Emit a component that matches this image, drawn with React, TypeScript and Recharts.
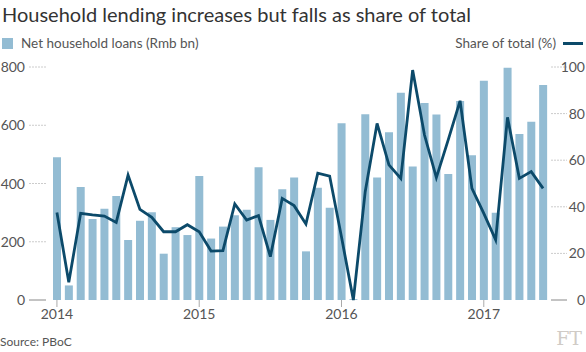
import React from 'react';
import { ComposedChart, Bar, Line, XAxis, YAxis } from 'recharts';

const months = [
  'Jan 2014', 'Feb 2014', 'Mar 2014', 'Apr 2014', 'May 2014', 'Jun 2014', 'Jul 2014', 'Aug 2014', 'Sep 2014', 'Oct 2014', 'Nov 2014', 'Dec 2014',
  'Jan 2015', 'Feb 2015', 'Mar 2015', 'Apr 2015', 'May 2015', 'Jun 2015', 'Jul 2015', 'Aug 2015', 'Sep 2015', 'Oct 2015', 'Nov 2015', 'Dec 2015',
  'Jan 2016', 'Feb 2016', 'Mar 2016', 'Apr 2016', 'May 2016', 'Jun 2016', 'Jul 2016', 'Aug 2016', 'Sep 2016', 'Oct 2016', 'Nov 2016', 'Dec 2016',
  'Jan 2017', 'Feb 2017', 'Mar 2017', 'Apr 2017', 'May 2017', 'Jun 2017',
];

// net household loans, Rmb bn
const loans = [
  490, 50, 388, 278, 313, 357, 206, 272, 301, 159, 250, 223,
  426, 211, 252, 291, 310, 456, 275, 380, 421, 167, 385, 317,
  607, 3, 638, 421, 576, 712, 458, 676, 637, 433, 683, 497,
  753, 300, 797, 570, 612, 738,
];

// household share of total new lending, %
const share = [
  37.6, 7.6, 37.2, 36.5, 36, 33.3, 53.6, 38.9, 35.5, 29.3, 29.3, 32.3,
  29.3, 21, 21.2, 41.2, 34.3, 36.2, 18.6, 43.6, 40.5, 32.6, 54.4, 53.2,
  27, 0, 46.5, 75.8, 58, 52.2, 98.7, 70.8, 52.5, 68.7, 85.5, 47.9,
  37.2, 25.8, 78.4, 52.2, 55.1, 47.9,
];

const yearTicks = ['Jan 2014', 'Jan 2015', 'Jan 2016', 'Jan 2017'];
const leftTicks = [0, 200, 400, 600, 800];
const rightTicks = [0, 20, 40, 60, 80, 100];

const data = months.map((m, i) => ({ month: m, loans: loans[i], share: share[i] }));

const FONT = 'Lato, sans-serif';
const BAR = '#93bcd3';
const LINE = '#0c4a6a';
const TEXT = '#555';

const LeftTick = (props: any) => {
  const { y, payload } = props;
  const zero = payload.value === 0;
  return (
    <g>
      <line x1={29} x2={46} y1={y} y2={y} stroke={zero ? '#888' : '#ccc'} strokeWidth={1} strokeDasharray={zero ? undefined : '2 1'} />
      <text x={25} y={y} dy={5} textAnchor="end" fill={TEXT} fontSize={14} fontFamily={FONT}>
        {payload.value}
      </text>
    </g>
  );
};

const RightTick = (props: any) => {
  const { y, payload } = props;
  const zero = payload.value === 0;
  return (
    <g>
      <line x1={551} x2={567} y1={y} y2={y} stroke={zero ? '#888' : '#ccc'} strokeWidth={1} strokeDasharray={zero ? undefined : '2 1'} />
      <text x={585} y={y} dy={5} textAnchor="end" fill={TEXT} fontSize={14} fontFamily={FONT}>
        {payload.value}
      </text>
    </g>
  );
};

const App = () => {
  return (
    <div style={{ position: 'absolute', left: 0, top: 0, width: 586, height: 352, background: '#fff', fontFamily: FONT, overflow: 'hidden' }}>
      <div style={{ position: 'absolute', left: 2, top: 2, fontSize: 20, color: '#333', whiteSpace: 'nowrap' }}>
        Household lending increases but falls as share of total
      </div>
      <div style={{ position: 'absolute', left: 2, top: 35, display: 'flex', alignItems: 'center', fontSize: 13.5, color: TEXT }}>
        <div style={{ width: 11, height: 11, background: BAR, marginRight: 8 }}></div>
        <span>Net household loans (Rmb bn)</span>
      </div>
      <div style={{ position: 'absolute', right: 3, top: 35, display: 'flex', alignItems: 'center', fontSize: 13.5, color: TEXT }}>
        <span>Share of total (%)</span>
        <div style={{ width: 20, height: 3, background: LINE, marginLeft: 7 }}></div>
      </div>

      <div style={{ position: 'absolute', left: 0, top: 0 }}>
        <ComposedChart width={586} height={352} data={data} margin={{ top: 67, right: 0, left: 0, bottom: 22 }}>
          <XAxis
            dataKey="month"
            ticks={yearTicks}
            tickFormatter={(v: string) => v.slice(4)}
            axisLine={false}
            tickLine={{ stroke: '#aaa' }}
            tickSize={7}
            height={30}
            interval={0}
            tick={{ fill: TEXT, fontSize: 14, fontFamily: FONT }}
          />
          <YAxis
            yAxisId="left"
            orientation="left"
            width={51}
            domain={[0, 800]}
            ticks={leftTicks}
            axisLine={false}
            tickLine={false}
            tick={<LeftTick />}
          />
          <YAxis
            yAxisId="right"
            orientation="right"
            width={37}
            domain={[0, 100]}
            ticks={rightTicks}
            axisLine={false}
            tickLine={false}
            tick={<RightTick />}
          />
          <Bar yAxisId="left" dataKey="loans" fill={BAR} barSize={8} isAnimationActive={false} />
          <Line
            yAxisId="right"
            dataKey="share"
            type="linear"
            stroke={LINE}
            strokeWidth={2.8}
            dot={false}
            activeDot={false}
            isAnimationActive={false}
          />
        </ComposedChart>
      </div>

      <div style={{ position: 'absolute', left: 0, top: 334, fontSize: 12, color: TEXT }}>Source: PBoC</div>
      <div style={{ position: 'absolute', right: 4, top: 326, fontSize: 19, lineHeight: '24px', color: '#d0cbc6', fontFamily: '"DejaVu Serif", serif' }}>
        FT
      </div>
    </div>
  );
};

export default App;
